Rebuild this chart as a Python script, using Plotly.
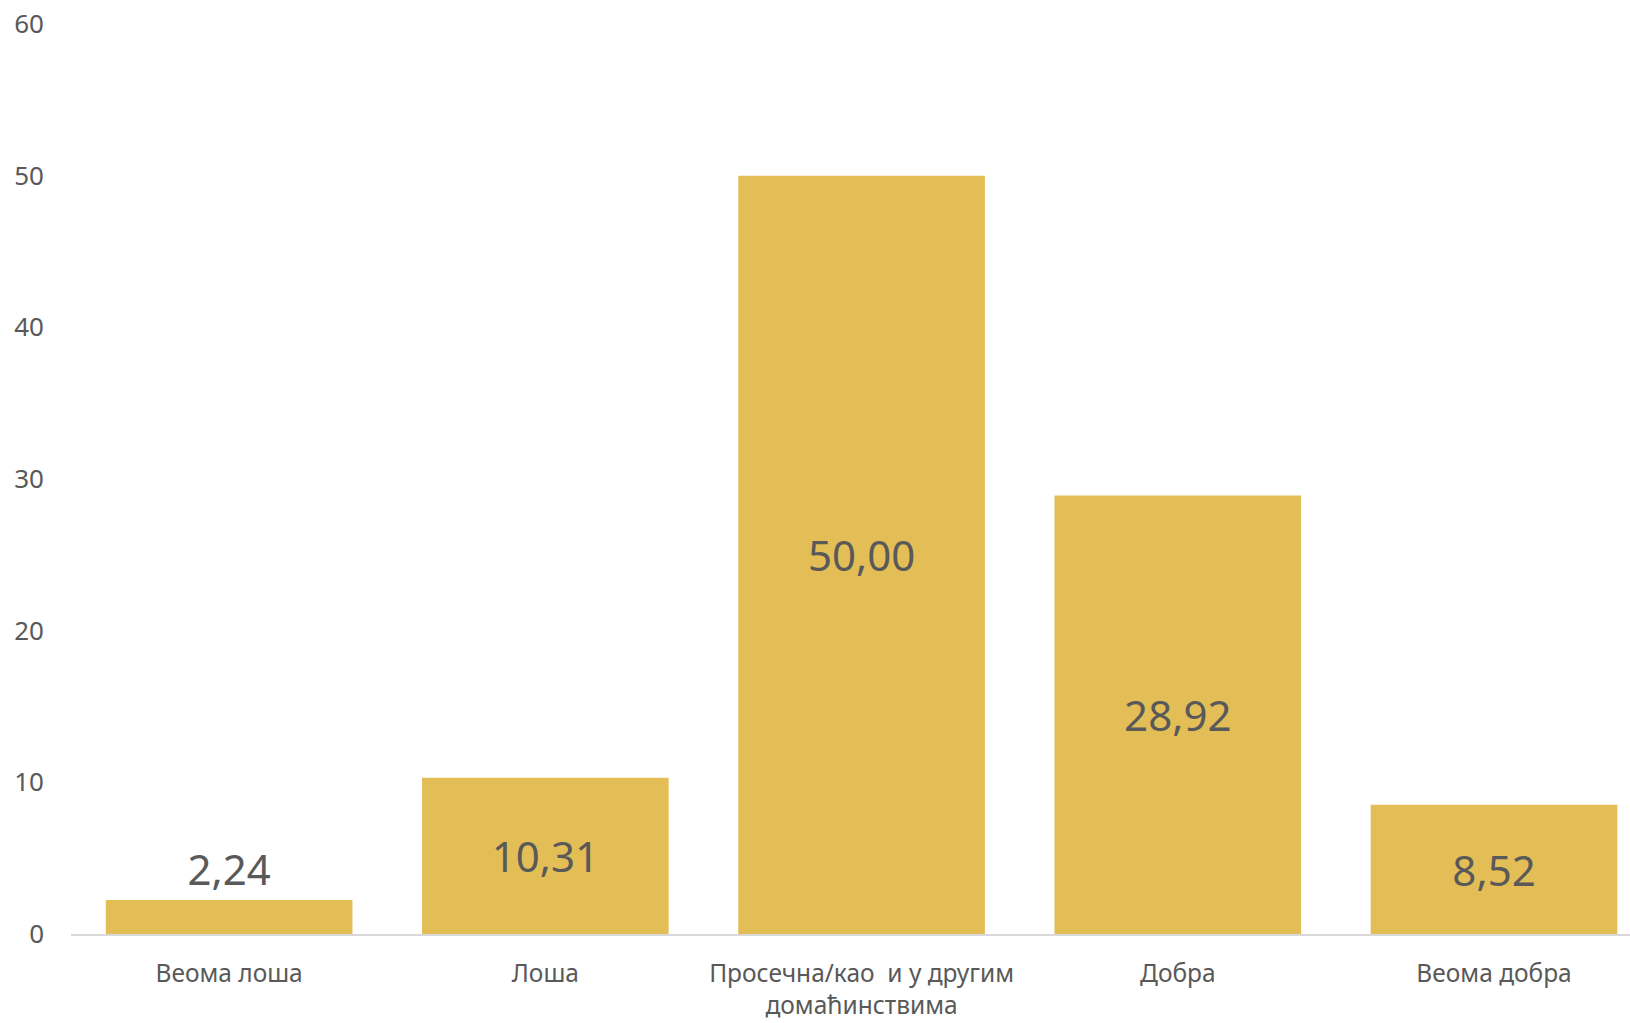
import plotly.graph_objects as go

categories = ["Веома лоша", "Лоша", "Просечна/као  и у другим<br>домаћинствима", "Добра", "Веома добра"]
values = [2.24, 10.31, 50.00, 28.92, 8.52]
y_ticks = [0, 10, 20, 30, 40, 50, 60]

labels = [f"{v:.2f}".replace(".", ",") for v in values]
positions = ["outside" if v < 5 else "inside" for v in values]

FONT = "Noto Sans, Open Sans, sans-serif"
GREY = "#595959"

fig = go.Figure(
    go.Bar(
        x=list(range(len(categories))),
        y=values,
        marker=dict(color="#E3BE57", line=dict(width=0)),
        text=labels,
        textposition=positions,
        insidetextanchor="middle",
        constraintext="none",
        cliponaxis=False,
        textfont=dict(family=FONT, size=42, color=GREY),
        hoverinfo="skip",
    )
)

fig.update_layout(
    width=1630,
    height=1023,
    margin=dict(l=71, r=0, t=24, b=89, autoexpand=False),
    paper_bgcolor="white",
    plot_bgcolor="white",
    bargap=0.22,
    showlegend=False,
    font=dict(family=FONT, color=GREY),
)

fig.update_xaxes(
    tickmode="array",
    tickvals=list(range(len(categories))),
    ticktext=categories,
    range=[-0.5, 4.43],
    showline=True,
    linecolor="#D9D9D9",
    linewidth=2,
    showgrid=False,
    ticks="",
    tickfont=dict(family=FONT, size=24.5, color=GREY),
    ticklabelstandoff=17,
    zeroline=False,
    automargin=False,
)

fig.update_yaxes(
    range=[0, 60],
    tickmode="array",
    tickvals=y_ticks,
    ticktext=[str(t) for t in y_ticks],
    showgrid=False,
    zeroline=False,
    showline=False,
    ticks="",
    tickfont=dict(family=FONT, size=26, color=GREY),
    ticklabelstandoff=26,
    automargin=False,
)

# remove the browser's default 8px body margin so the figure fills the window exactly
fig.write_html(
    "out.html",
    config={"displayModeBar": False, "staticPlot": True},
    post_script="document.body.style.margin='0';document.body.style.overflow='hidden';",
)
